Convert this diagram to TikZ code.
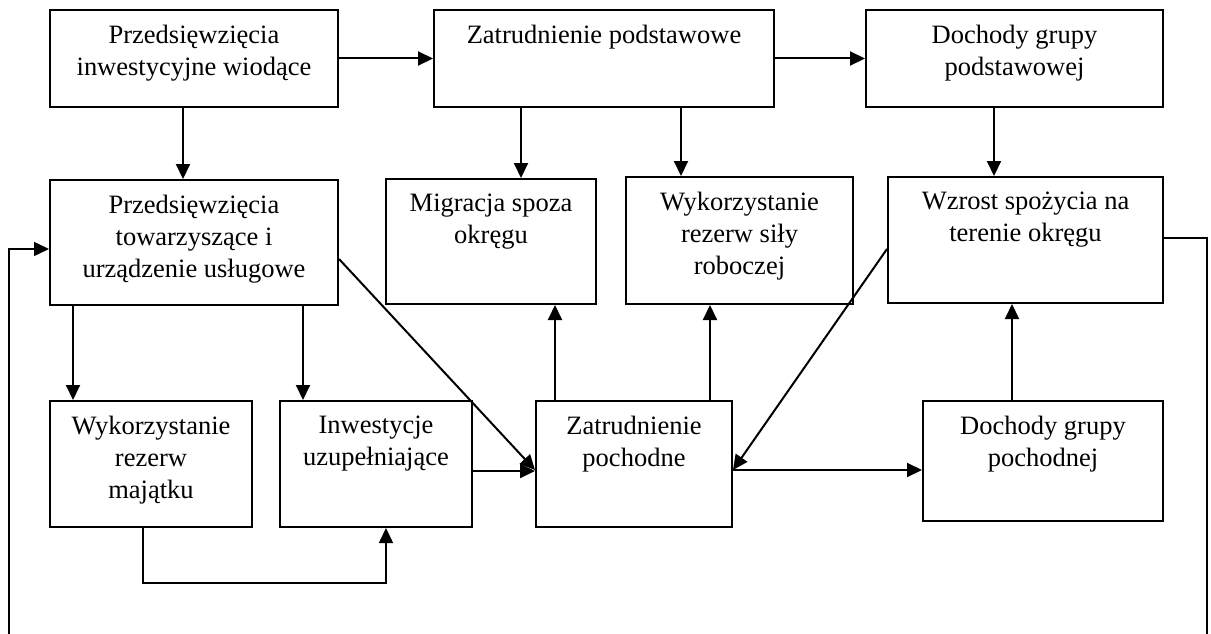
\documentclass[tikz,border=0pt]{standalone}
\usepackage{fontspec}
\setmainfont{Liberation Serif}
\usetikzlibrary{arrows.meta}

\tikzset{
  box/.style={draw, line width=2pt, inner sep=0pt, rectangle},
  txt/.style={inner sep=0pt, align=center, anchor=north,
    font=\fontsize{26.5}{32}\selectfont},
  arr/.style={line width=2pt, -{Triangle[length=15pt,width=14pt]}},
  thin/.style={line width=1.5pt},
  thinarr/.style={line width=1.5pt, -{Triangle[length=15pt,width=14pt]}},
}

% \mkbox{name}{x1}{y1}{x2}{y2}{text}: framed box with its text set near the top
\newcommand\mkbox[6]{%
  \pgfmathsetmacro\bcx{(#2+#4)/2}%
  \pgfmathsetmacro\bcy{(#3+#5)/2}%
  \pgfmathsetmacro\bw{#4-#2}%
  \pgfmathsetmacro\bh{#5-#3}%
  \node[box, minimum width=\bw pt, minimum height=\bh pt] (#1) at (\bcx,\bcy) {};
  \node[txt] (#1-t) at ([yshift=-16pt]#1.north) {#6};
}

\begin{document}
\begin{tikzpicture}[x=1pt, y=-1pt]
\useasboundingbox (0,0) rectangle (1211,634);

% top row
\mkbox{a}{50}{10}{338}{107}{Przedsięwzięcia\\inwestycyjne wiodące}
\mkbox{b}{434}{10}{774}{107}{Zatrudnienie podstawowe}
\mkbox{c}{866}{10}{1163}{107}{Dochody grupy\\podstawowej}

% middle row
\mkbox{d}{50}{180}{338}{305}{Przedsięwzięcia\\towarzyszące i\\urządzenie usługowe}
\mkbox{e}{386}{179}{596}{304}{Migracja spoza\\okręgu}
\mkbox{f}{626}{177}{853}{304}{Wykorzystanie\\rezerw siły\\roboczej}
\mkbox{g}{888}{177}{1163}{303}{Wzrost spożycia na\\terenie okręgu}

% bottom row
\mkbox{h}{50}{401}{252}{527}{Wykorzystanie\\rezerw\\majątku}
\mkbox{i}{280}{401}{472}{527}{Inwestycje\\uzupełniające}
\mkbox{j}{536}{401}{732}{527}{Zatrudnienie\\pochodne}
\mkbox{k}{923}{401}{1163}{521}{Dochody grupy\\pochodnej}

% loose ends of the feedback loop
\coordinate (lb) at (9,634);
\coordinate (rb) at (1207,634);

% horizontal links of the top row
\draw[arr] (a.east) -- (b.west);
\draw[arr] (b.east) -- (c.west);

% downward links
\draw[arr] ([xshift=-11pt]a.south) -- ([xshift=-11pt]a.south |- d.north);
\draw[arr] ([xshift=30pt]e.north |- b.south) -- ([xshift=30pt]e.north);
\draw[arr] ([xshift=-58.5pt]f.north |- b.south) -- ([xshift=-58.5pt]f.north);
\draw[arr] ([xshift=-31.5pt]g.north |- c.south) -- ([xshift=-31.5pt]g.north);
\draw[arr] ([xshift=-78pt]h.north |- d.south) -- ([xshift=-78pt]h.north);
\draw[arr] ([xshift=-73pt]i.north |- d.south) -- ([xshift=-73pt]i.north);

% links into the derived employment box
\draw[arr] ([yshift=-16.5pt]d.east) -- ([yshift=-6pt]j.west);
\draw[arr] ([yshift=-7pt]i.east) -- ([yshift=-7pt]i.east -| j.west);
\draw[arr] ([yshift=-9pt]g.west) -- ([yshift=-6pt]j.east);

% upward links
\draw[arr] ([xshift=-79pt]j.north) -- ([xshift=-79pt]j.north |- e.south);
\draw[arr] ([xshift=76pt]j.north) -- ([xshift=76pt]j.north |- f.south);
\draw[arr] ([xshift=-31pt]k.north) -- ([xshift=-31pt]k.north |- g.south);

% derived employment to derived income
\draw[arr] ([yshift=-6pt]j.east) -- ([yshift=-6pt]j.east -| k.west);

% asset reserves to complementary investment
\draw[thinarr] ([xshift=-8pt]h.south) -- ++(0,55) -| ([xshift=10pt]i.south);

% feedback loop
\draw[thin] ([yshift=2pt]g.east) -| (rb);
\draw[thinarr] (lb) |- ([yshift=-6.5pt]d.west);
\end{tikzpicture}
\end{document}
